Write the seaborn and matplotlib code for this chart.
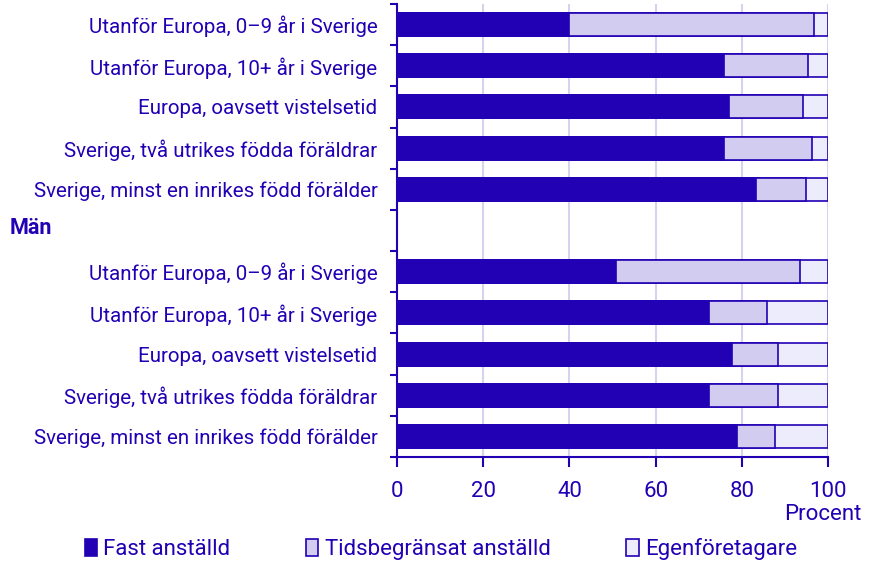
import matplotlib
matplotlib.use("Agg")
import matplotlib.pyplot as plt
import pandas as pd
import seaborn as sns
from matplotlib.patches import Patch

# Data (percent)
labels = [
    "Utanför Europa, 0–9 år i Sverige",
    "Utanför Europa, 10+ år i Sverige",
    "Europa, oavsett vistelsetid",
    "Sverige, två utrikes födda föräldrar",
    "Sverige, minst en inrikes född förälder",
]
group_header = "Män"
top_fast = [39.8, 75.8, 77.1, 75.8, 83.2]
top_tids = [57.0, 19.6, 17.0, 20.6, 11.8]
top_egen = [3.2, 4.6, 5.9, 3.6, 5.0]
man_fast = [50.8, 72.5, 77.7, 72.5, 79.0]
man_tids = [42.8, 13.3, 10.8, 16.0, 8.6]
man_egen = [6.4, 14.2, 11.5, 11.5, 12.4]
series = ["Fast anställd", "Tidsbegränsat anställd", "Egenföretagare"]

BLUE = "#2200b4"
colors = [BLUE, "#d2cdf0", "#ececfc"]
GRID = "#d6d3f0"

sns.set_theme(style="white")
plt.rcParams["font.family"] = ["Roboto", "DejaVu Sans"]
plt.rcParams["text.color"] = BLUE

rows = [f"a{i}" for i in range(5)] + ["gap"] + [f"b{i}" for i in range(5)]
tick_labels = labels + [""] + labels

recs = []
for i in range(5):
    recs.append({"row": f"a{i}", "fast": top_fast[i], "tids": top_tids[i], "egen": top_egen[i]})
    recs.append({"row": f"b{i}", "fast": man_fast[i], "tids": man_tids[i], "egen": man_egen[i]})
df = pd.DataFrame(recs)
df["c1"] = df["fast"]
df["c2"] = df["fast"] + df["tids"]
df["c3"] = df["fast"] + df["tids"] + df["egen"]

fig = plt.figure(figsize=(8.75, 5.62), dpi=100)
ax = fig.add_axes([0.4537, 0.1868, 0.4926, 0.8061])

for col, c in zip(["c3", "c2", "c1"], colors[::-1]):
    sns.barplot(data=df, x=col, y="row", order=rows, orient="h", color=c,
                edgecolor=BLUE, linewidth=1.2, width=0.56, saturation=1, ax=ax)

ax.set_xlim(0, 100)
ax.set_ylim(10.5, -0.5)
ax.set_xticks([0, 20, 40, 60, 80, 100])
ax.xaxis.grid(True, color=GRID, linewidth=1.5)
ax.set_axisbelow(True)

ax.set_yticks([i - 0.5 for i in range(12)])
ax.set_yticklabels([])
ax.set_yticks(range(11), minor=True)
ax.set_yticklabels(tick_labels, minor=True)
ax.tick_params(axis="y", which="major", length=5, width=1.5, color=BLUE, direction="out", left=True)
ax.tick_params(axis="y", which="minor", length=0, pad=14, labelsize=14.8, labelcolor=BLUE)
ax.tick_params(axis="x", length=7, width=1.5, color=BLUE, direction="out", bottom=True,
               labelsize=16, labelcolor=BLUE, pad=10)
ax.set_xlabel("")
ax.set_ylabel("")

for s in ["top", "right"]:
    ax.spines[s].set_visible(False)
for s in ["left", "bottom"]:
    ax.spines[s].set_color(BLUE)
    ax.spines[s].set_linewidth(1.5)

fig.text(0.011, 1 - 228 / 562, group_header, fontsize=15.5, fontweight="bold",
         color=BLUE, va="center", ha="left")
fig.text(862 / 875, 1 - 514 / 562, "Procent", fontsize=16, color=BLUE, va="center", ha="right")

handles = [Patch(facecolor=c, edgecolor=BLUE, linewidth=1.2) for c in colors]
fig.legend(handles, series, loc="center", bbox_to_anchor=(441 / 875, 1 - 549 / 562), ncol=3,
           frameon=False, fontsize=16, labelcolor=BLUE, handlelength=0.55, handleheight=0.8,
           handletextpad=0.3, columnspacing=3.4)

fig.savefig("out.png", dpi=100)
